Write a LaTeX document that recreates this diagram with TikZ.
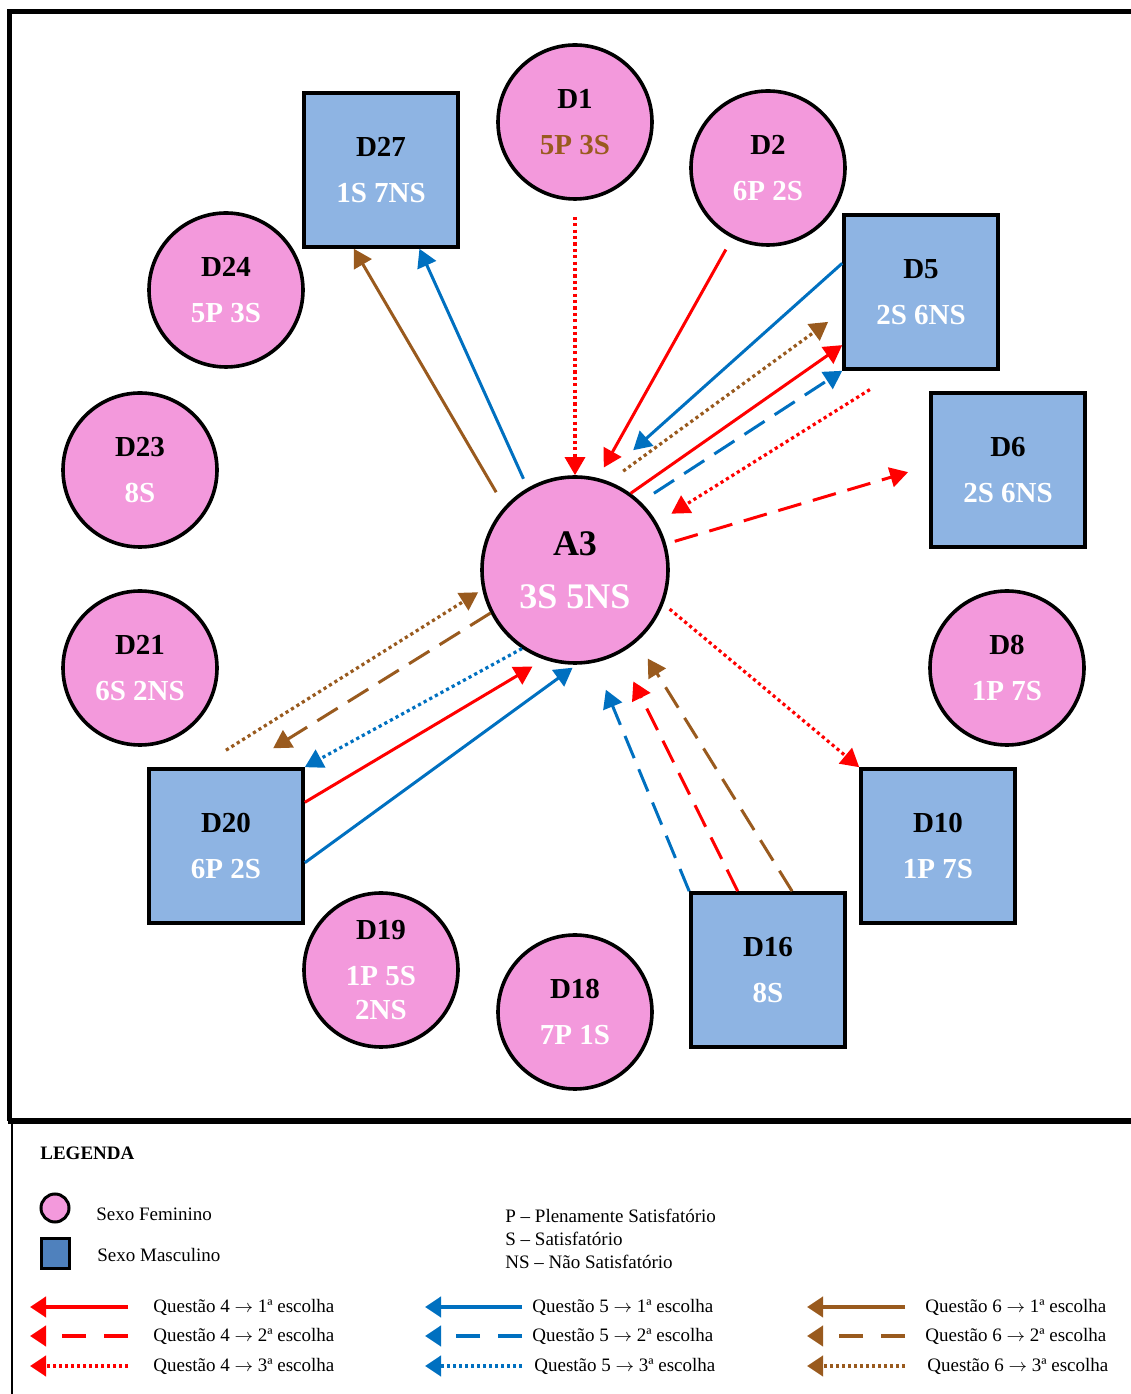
\documentclass[tikz,border=0pt]{standalone}
\usepackage{fontspec}
\setmainfont{Liberation Serif}
\usetikzlibrary{arrows.meta}

\definecolor{fempink}{RGB}{243,153,220}
\definecolor{mascblue}{RGB}{142,180,227}
\definecolor{iconblue}{RGB}{79,129,189}
\definecolor{qred}{RGB}{255,0,0}
\definecolor{qblue}{RGB}{0,112,192}
\definecolor{qbrown}{RGB}{153,90,30}

\begin{document}
\begin{tikzpicture}[x=0.5pt, y=0.5pt,
        fem/.style={circle, draw=black, line width=1.8pt, fill=fempink, minimum size=77pt, inner sep=0pt, align=center, font=\fontsize{14.5}{17}\selectfont\bfseries},
        masc/.style={rectangle, draw=black, line width=1.8pt, fill=mascblue, minimum size=77pt, inner sep=0pt, align=center, font=\fontsize{14.5}{17}\selectfont\bfseries},
        arr/.style={line width=1.5pt, -{Triangle[length=9pt,width=10pt]}},
        firstch/.style={arr},
        secondch/.style={arr, dash pattern=on 12pt off 6pt},
        thirdch/.style={arr, line width=1.6pt, dash pattern=on 1.6pt off 1.6pt},
        legtext/.style={anchor=west, inner sep=0pt, font=\fontsize{9.5}{11}\selectfont},
        legarr/.style={line width=2pt, -{Triangle[length=8pt,width=10pt]}},
        legdashed/.style={legarr, dash pattern=on 12pt off 9pt},
        legdotted/.style={legarr, dash pattern=on 1.4pt off 1.6pt}]
    \useasboundingbox (0,0) rectangle (1131,1394);

    % frame
    \draw[line width=2.2pt] (1131,1382.5) -- (9.5,1382.5) -- (9.5,272.5);
    \draw[line width=3pt] (8,272.5) -- (1131,272.5);
    \draw[line width=1.2pt] (12,272.5) -- (12,0);

    % centre
    \node[fem, minimum size=93pt, font=\fontsize{18}{21.6}\selectfont\bfseries] (A3) at (575,824) {A3\\[5pt]\textcolor{white}{3S 5NS}};

    % girls
    \node[fem] (D1) at (575,1272) {D1\\[6pt]\textcolor{qbrown}{5P 3S}};
    \node[fem] (D2) at (768,1226) {D2\\[6pt]\textcolor{white}{6P 2S}};
    \node[fem] (D24) at (226,1104) {D24\\[6pt]\textcolor{white}{5P 3S}};
    \node[fem] (D23) at (140,924) {D23\\[6pt]\textcolor{white}{8S}};
    \node[fem] (D21) at (140,726) {D21\\[6pt]\textcolor{white}{6S 2NS}};
    \node[fem] (D8) at (1007,726) {D8\\[6pt]\textcolor{white}{1P 7S}};
    \node[fem] (D19) at (381,424) {D19\\[6pt]\textcolor{white}{1P 5S}\\\textcolor{white}{2NS}};
    \node[fem] (D18) at (575,382) {D18\\[6pt]\textcolor{white}{7P 1S}};

    % boys
    \node[masc] (D27) at (381,1224) {D27\\[6pt]\textcolor{white}{1S 7NS}};
    \node[masc] (D5) at (921,1102) {D5\\[6pt]\textcolor{white}{2S 6NS}};
    \node[masc] (D6) at (1008,924) {D6\\[6pt]\textcolor{white}{2S 6NS}};
    \node[masc] (D20) at (226,548) {D20\\[6pt]\textcolor{white}{6P 2S}};
    \node[masc] (D10) at (938,548) {D10\\[6pt]\textcolor{white}{1P 7S}};
    \node[masc] (D16) at (768,424) {D16\\[6pt]\textcolor{white}{8S}};

    % question 4
    \draw[thirdch, qred, shorten <=8pt] (D1.south) -- (A3.north);
    \draw[firstch, qred, shorten <=6.5pt, shorten >=6pt] (D2.243) -- (A3.76);
    \draw[firstch, qred] (A3.54) -- (D5.214);
    \draw[thirdch, qred, shorten <=17.7pt, shorten >=8.4pt] (D5.255) -- (A3.30);
    \draw[secondch, qred, shorten <=4.5pt, shorten >=11pt] (A3.16) -- (D6.177);
    \draw[thirdch, qred, shorten <=4pt] (A3.-21) -- (D10.north west);
    \draw[firstch, qred, shorten >=6.8pt] (D20.29) -- (A3.251);
    \draw[secondch, qred, shorten >=15.5pt] (D16.111) -- (A3.298);

    % question 5
    \draw[firstch, qblue, shorten >=21.5pt] (D5.160) -- (A3.74);
    \draw[secondch, qblue, shorten <=7.8pt] (A3.46) -- (D5.south west);
    \draw[firstch, qblue, shorten <=5pt] (A3.120) -- (D27.296);
    \draw[thirdch, qblue] (A3.236) -- (D20.north east);
    \draw[firstch, qblue, shorten >=2.5pt] (D20.-12) -- (A3.271);
    \draw[secondch, qblue, shorten >=14.6pt] (D16.north west) -- (A3.282);

    % question 6
    \draw[thirdch, qbrown, shorten <=8.8pt, shorten >=8.7pt] (A3.69) -- (D5.194);
    \draw[firstch, qbrown, shorten <=8.3pt] (A3.138) -- (D27.251);
    \draw[thirdch, qbrown, shorten <=16pt, shorten >=2.4pt] (D20.109) -- (A3.192);
    \draw[secondch, qbrown, shorten >=17.9pt] (A3.207) -- (D20.78);
    \draw[secondch, qbrown, shorten >=10pt] (D16.73) -- (A3.311);

    % legend
    \node[anchor=west, inner sep=0pt, font=\fontsize{9.5}{11}\selectfont\bfseries] (legenda) at (40,241) {LEGENDA};
    \node[fem, minimum size=14pt, line width=1.5pt] (iconfem) at (55,186) {};
    \node[masc, fill=iconblue, minimum width=14pt, minimum height=15pt, line width=1.5pt] (iconmasc) at (55,140) {};
    \node[legtext] (txtfem) at (96,180) {Sexo Feminino};
    \node[legtext] (txtmasc) at (97,139) {Sexo Masculino};
    \node[legtext] (defp) at (505,178) {P – Plenamente Satisfatório};
    \node[legtext] (defs) at (505,155) {S – Satisfatório};
    \node[legtext] (defns) at (505,132) {NS – Não Satisfatório};

    % legend question 4
    \node[legtext] (q41) at (153,87) {Questão 4 $\rightarrow$ 1ª escolha};
    \node[legtext] (q42) at (153,58) {Questão 4 $\rightarrow$ 2ª escolha};
    \node[legtext] (q43) at (153,28) {Questão 4 $\rightarrow$ 3ª escolha};
    \draw[legarr, qred] ([xshift=-12.5pt]q41.west) -- ++(-98,0);
    \draw[legdashed, qred] ([xshift=-12.5pt]q42.west) -- ++(-98,0);
    \draw[legdotted, qred] ([xshift=-12.5pt]q43.west) -- ++(-98,0);

    % legend question 5
    \node[legtext] (q51) at (532,87) {Questão 5 $\rightarrow$ 1ª escolha};
    \node[legtext] (q52) at (532,58) {Questão 5 $\rightarrow$ 2ª escolha};
    \node[legtext] (q53) at (534,28) {Questão 5 $\rightarrow$ 3ª escolha};
    \draw[legarr, qblue] ([xshift=-5pt]q51.west) -- ++(-97,0);
    \draw[legdashed, qblue] ([xshift=-5pt]q52.west) -- ++(-97,0);
    \draw[legdotted, qblue] ([xshift=-6pt]q53.west) -- ++(-97,0);

    % legend question 6
    \node[legtext] (q61) at (925,87) {Questão 6 $\rightarrow$ 1ª escolha};
    \node[legtext] (q62) at (925,58) {Questão 6 $\rightarrow$ 2ª escolha};
    \node[legtext] (q63) at (927,28) {Questão 6 $\rightarrow$ 3ª escolha};
    \draw[legarr, qbrown] ([xshift=-10pt]q61.west) -- ++(-98,0);
    \draw[legdashed, qbrown] ([xshift=-10pt]q62.west) -- ++(-98,0);
    \draw[legdotted, qbrown] ([xshift=-11pt]q63.west) -- ++(-98,0);
\end{tikzpicture}
\end{document}
